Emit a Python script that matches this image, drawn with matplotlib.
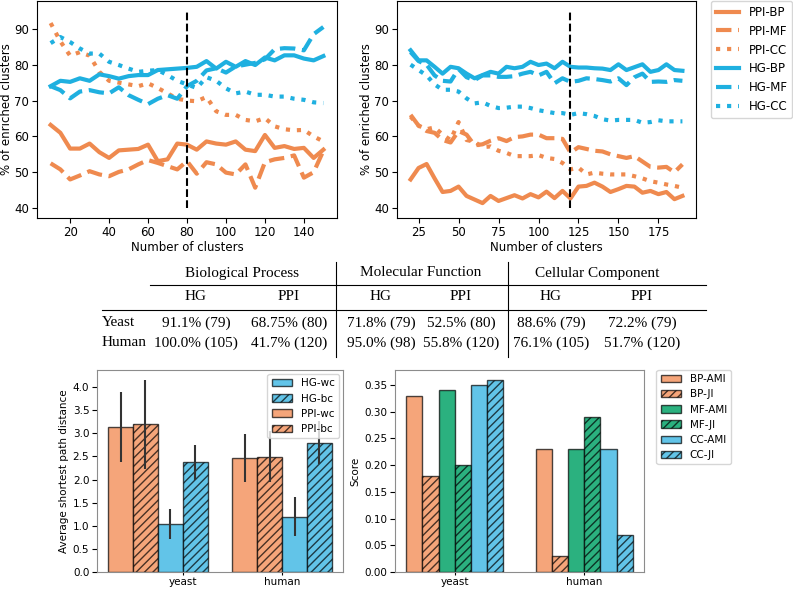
import numpy as np
import matplotlib
matplotlib.use("Agg")
import matplotlib.pyplot as plt
from matplotlib.lines import Line2D
from matplotlib.patches import Patch

# ---- enrichment vs number of clusters (yeast, left) ----
k_yeast = np.arange(10, 151, 5)
yeast_ppi_bp = [63.2, 61.0, 56.6, 56.6, 58.0, 55.6, 54.0, 56.1, 56.3, 56.5, 57.7, 53.1, 53.6, 58.0, 57.7,
                56.3, 58.6, 58.0, 57.7, 58.6, 56.3, 55.9, 60.4, 56.8, 57.3, 56.5, 56.8, 54.0, 56.3]
yeast_ppi_mf = [52.5, 50.8, 48.0, 49.1, 50.3, 49.4, 48.9, 50.1, 50.8, 52.2, 53.4, 52.6, 51.7, 50.8, 53.1,
                49.6, 52.8, 52.2, 49.9, 49.4, 52.2, 45.7, 52.8, 53.6, 54.0, 54.7, 48.5, 50.0, 56.0]
yeast_ppi_cc = [91.6, 86.5, 82.5, 83.5, 82.5, 78.0, 75.5, 75.0, 74.5, 74.0, 74.8, 73.5, 72.0, 70.5, 70.0,
                69.8, 71.0, 67.0, 66.0, 66.0, 64.6, 64.2, 65.1, 62.8, 62.0, 61.7, 61.8, 60.0, 58.6]
yeast_hg_bp = [74.0, 75.5, 75.2, 76.2, 75.5, 77.3, 76.8, 76.1, 76.8, 77.1, 77.1, 78.5, 78.7, 78.9, 79.1,
               79.4, 81.0, 78.9, 80.8, 79.4, 81.0, 79.9, 82.0, 81.2, 82.6, 82.6, 81.7, 81.2, 82.4]
yeast_hg_mf = [74.0, 72.9, 70.6, 72.5, 72.9, 72.3, 72.0, 73.7, 71.5, 70.2, 69.0, 70.5, 71.5, 70.5, 74.0,
               75.5, 78.4, 79.0, 77.8, 79.5, 80.0, 80.5, 81.5, 84.3, 84.6, 84.5, 84.0, 88.5, 90.5]
yeast_hg_cc = [86.0, 87.7, 86.3, 84.5, 83.1, 83.1, 80.8, 79.9, 78.9, 78.0, 78.3, 78.5, 77.1, 75.5, 74.5,
               73.5, 76.5, 75.5, 73.4, 72.0, 72.5, 71.6, 71.6, 71.1, 71.1, 70.5, 70.2, 69.5, 69.3]

# ---- enrichment vs number of clusters (human, right) ----
k_human = np.arange(20, 191, 5)
human_ppi_bp = [48.0, 51.2, 52.3, 48.3, 44.5, 44.8, 46.0, 43.4, 42.4, 41.4, 43.4, 42.0, 42.8, 43.6, 42.7,
                43.9, 43.0, 44.6, 42.8, 44.8, 42.7, 46.0, 46.2, 47.1, 46.0, 44.5, 45.3, 46.2, 46.0, 44.3,
                44.8, 43.9, 44.5, 42.5, 43.4]
human_ppi_mf = [66.0, 63.0, 61.5, 61.0, 59.0, 58.3, 61.5, 60.5, 57.5, 57.8, 58.8, 59.5, 58.7, 59.8, 60.0,
                60.5, 60.5, 59.5, 59.5, 59.3, 55.5, 57.0, 56.5, 56.0, 55.8, 55.0, 54.5, 54.0, 54.5, 53.0,
                51.5, 51.3, 51.5, 50.0, 52.2]
human_ppi_cc = [65.5, 63.0, 62.0, 62.5, 60.5, 59.0, 64.0, 59.0, 58.5, 57.0, 57.2, 56.0, 55.4, 54.5, 54.5,
                54.5, 54.8, 54.0, 53.7, 52.6, 50.8, 51.3, 49.4, 49.9, 49.6, 49.4, 49.4, 49.4, 48.9, 48.3,
                47.5, 47.1, 46.6, 46.2, 45.7]
human_hg_bp = [84.0, 81.2, 81.2, 79.4, 77.5, 79.4, 79.0, 77.5, 76.2, 77.1, 78.0, 77.5, 79.4, 79.0, 79.4,
               80.8, 79.9, 80.3, 79.0, 80.8, 79.4, 79.2, 79.2, 79.0, 78.9, 78.5, 80.1, 78.5, 79.3, 80.1,
               78.0, 78.5, 80.1, 78.5, 78.3]
human_hg_mf = [83.5, 81.0, 80.0, 77.0, 75.5, 75.3, 78.8, 76.5, 75.7, 77.0, 77.0, 76.6, 76.6, 76.8, 77.5,
               78.0, 77.0, 78.0, 74.8, 76.2, 75.2, 75.5, 76.2, 76.0, 75.7, 75.3, 76.2, 74.3, 76.5, 77.5,
               75.2, 75.3, 75.2, 75.7, 75.5]
human_hg_cc = [80.0, 78.5, 77.0, 74.5, 73.0, 73.0, 72.5, 70.6, 69.2, 69.5, 68.5, 67.9, 68.0, 68.3, 68.3,
               67.9, 67.3, 66.9, 66.5, 66.5, 66.0, 66.5, 66.2, 65.7, 64.8, 64.4, 64.6, 64.6, 64.6, 63.8,
               64.0, 64.5, 64.2, 64.2, 64.2]

line_labels = ["PPI-BP", "PPI-MF", "PPI-CC", "HG-BP", "HG-MF", "HG-CC"]

# ---- table ----
table_groups = ["Biological Process", "Molecular Function", "Cellular Component"]
table_methods = ["HG", "PPI", "HG", "PPI", "HG", "PPI"]
table_species = ["Yeast", "Human"]
table_yeast = ["91.1% (79)", "68.75% (80)", "71.8% (79)", "52.5% (80)", "88.6% (79)", "72.2% (79)"]
table_human = ["100.0% (105)", "41.7% (120)", "95.0% (98)", "55.8% (120)", "76.1% (105)", "51.7% (120)"]

# ---- average shortest path distance ----
species = ["yeast", "human"]
ppi_wc_mean = [3.14, 2.46]
ppi_wc_err = [0.76, 0.52]
ppi_bc_mean = [3.19, 2.49]
ppi_bc_err = [0.97, 0.55]
hg_wc_mean = [1.04, 1.20]
hg_wc_err = [0.33, 0.42]
hg_bc_mean = [2.37, 2.80]
hg_bc_err = [0.38, 0.46]

# ---- clustering agreement scores ----
bp_ami = [0.33, 0.23]
bp_ji = [0.18, 0.03]
mf_ami = [0.34, 0.23]
mf_ji = [0.20, 0.29]
cc_ami = [0.35, 0.23]
cc_ji = [0.36, 0.07]

ORANGE = "#ef8a4f"
BLUE = "#1fb0e0"
BAR_ORANGE = "#f5a57a"
BAR_BLUE = "#62c4e8"
BAR_GREEN = "#2bb17f"
EDGE = (0, 0, 0, 0.7)

W, H = 793, 589
fig = plt.figure(figsize=(W / 100, H / 100), dpi=100)


def rect(l, t, r, b):
    return [l / W, 1 - b / H, (r - l) / W, (b - t) / H]


# top line charts
styles = [(ORANGE, "-"), (ORANGE, "--"), (ORANGE, ":"), (BLUE, "-"), (BLUE, "--"), (BLUE, ":")]
ax1 = fig.add_axes(rect(37, 1, 337, 218))
ax2 = fig.add_axes(rect(397, 1, 696, 218))
panels = [
    (ax1, k_yeast, [yeast_ppi_bp, yeast_ppi_mf, yeast_ppi_cc, yeast_hg_bp, yeast_hg_mf, yeast_hg_cc], 80,
     np.arange(20, 141, 20)),
    (ax2, k_human, [human_ppi_bp, human_ppi_mf, human_ppi_cc, human_hg_bp, human_hg_mf, human_hg_cc], 120,
     np.arange(25, 176, 25)),
]
for ax, k, series, cut, xt in panels:
    for (c, ls), vals, lab in zip(styles, series, line_labels):
        ax.plot(k, vals, color=c, ls=ls, lw=3, label=lab)
    ax.vlines(cut, 40, 95, colors="k", linestyles="--", lw=1.5)
    ax.set_xticks(xt)
    ax.set_yticks([40, 50, 60, 70, 80, 90])
    ax.set_xlabel("Number of clusters", fontsize=8.5, labelpad=2)
    ax.set_ylabel("% of enriched clusters", fontsize=8.5, labelpad=1)
    ax.tick_params(labelsize=8.5, pad=2)
ax2.legend(loc="upper left", bbox_to_anchor=(1.05, 1.0), borderaxespad=0, fontsize=8.5)

# table drawn as text
serif = dict(family="Liberation Serif", fontsize=11, color="k")


def fx(x):
    return x / W


def fy(y):
    return 1 - y / H


col_x = [196, 289, 381, 461, 551, 642]
head_x = [242, 421, 597]
for x, t in zip(head_x, table_groups):
    fig.text(fx(x), fy(273), t, ha="center", va="center", **serif)
for x, t in zip(col_x, table_methods):
    fig.text(fx(x), fy(297), t, ha="center", va="center", **serif)
for y, name, row in [(323, table_species[0], table_yeast), (343, table_species[1], table_human)]:
    fig.text(fx(102), fy(y), name, ha="left", va="center", **serif)
    for x, t in zip(col_x, row):
        fig.text(fx(x), fy(y), t, ha="center", va="center", **serif)
for x0, x1, y in [(150, 706, 285), (102, 706, 310)]:
    fig.add_artist(Line2D([fx(x0), fx(x1)], [fy(y), fy(y)], transform=fig.transFigure, color="k", lw=0.8))
for x in [336, 508]:
    fig.add_artist(Line2D([fx(x), fx(x)], [fy(262), fy(357)], transform=fig.transFigure, color="k", lw=0.8))

# bottom left: shortest path distances
ax3 = fig.add_axes(rect(97, 370, 343, 572))
pos = np.arange(len(species))
w = 0.2
ekw = dict(ecolor="0.2", lw=1.5, capsize=0)
ax3.bar(pos, ppi_wc_mean, w, yerr=ppi_wc_err, color=BAR_ORANGE, edgecolor=EDGE, lw=1, error_kw=ekw)
ax3.bar(pos + w, ppi_bc_mean, w, yerr=ppi_bc_err, color=BAR_ORANGE, edgecolor=EDGE, lw=1, hatch="////", error_kw=ekw)
ax3.bar(pos + 2 * w, hg_wc_mean, w, yerr=hg_wc_err, color=BAR_BLUE, edgecolor=EDGE, lw=1, error_kw=ekw)
ax3.bar(pos + 3 * w, hg_bc_mean, w, yerr=hg_bc_err, color=BAR_BLUE, edgecolor=EDGE, lw=1, hatch="////", error_kw=ekw)
ax3.set_xticks([0.5, 1.3])
ax3.set_xticklabels(species)
ax3.set_yticks(np.arange(0, 4.01, 0.5))
ax3.set_ylabel("Average shortest path distance", fontsize=7.5, labelpad=3)
leg_handles = [
    Patch(facecolor=BAR_BLUE, edgecolor=EDGE, label="HG-wc"),
    Patch(facecolor=BAR_BLUE, edgecolor=EDGE, hatch="////", label="HG-bc"),
    Patch(facecolor=BAR_ORANGE, edgecolor=EDGE, label="PPI-wc"),
    Patch(facecolor=BAR_ORANGE, edgecolor=EDGE, hatch="////", label="PPI-bc"),
]
ax3.legend(handles=leg_handles, loc="upper right", fontsize=7.5, borderaxespad=0.4)

# bottom right: AMI / Jaccard scores
ax4 = fig.add_axes(rect(395, 370, 644, 572))
w2 = 0.125
score_series = [
    ("BP-AMI", bp_ami, BAR_ORANGE, None), ("BP-JI", bp_ji, BAR_ORANGE, "////"),
    ("MF-AMI", mf_ami, BAR_GREEN, None), ("MF-JI", mf_ji, BAR_GREEN, "////"),
    ("CC-AMI", cc_ami, BAR_BLUE, None), ("CC-JI", cc_ji, BAR_BLUE, "////"),
]
for i, (lab, vals, c, h) in enumerate(score_series):
    ax4.bar(pos + i * w2, vals, w2, color=c, edgecolor=EDGE, lw=1, hatch=h, label=lab)
ax4.set_xticks(pos + 2.5 * w2)
ax4.set_xticklabels(species)
ax4.set_yticks(np.arange(0, 0.351, 0.05))
ax4.set_ylabel("Score", fontsize=7.5, labelpad=3)
ax4.legend(loc="upper left", bbox_to_anchor=(1.05, 1.0), borderaxespad=0, fontsize=7.5)

for ax in (ax3, ax4):
    ax.tick_params(labelsize=7.5, pad=2)
    ax.tick_params(axis="x", length=2, pad=1.5)
    for s in ax.spines.values():
        s.set_color("0.55")

fig.savefig("out.png", dpi=100)
